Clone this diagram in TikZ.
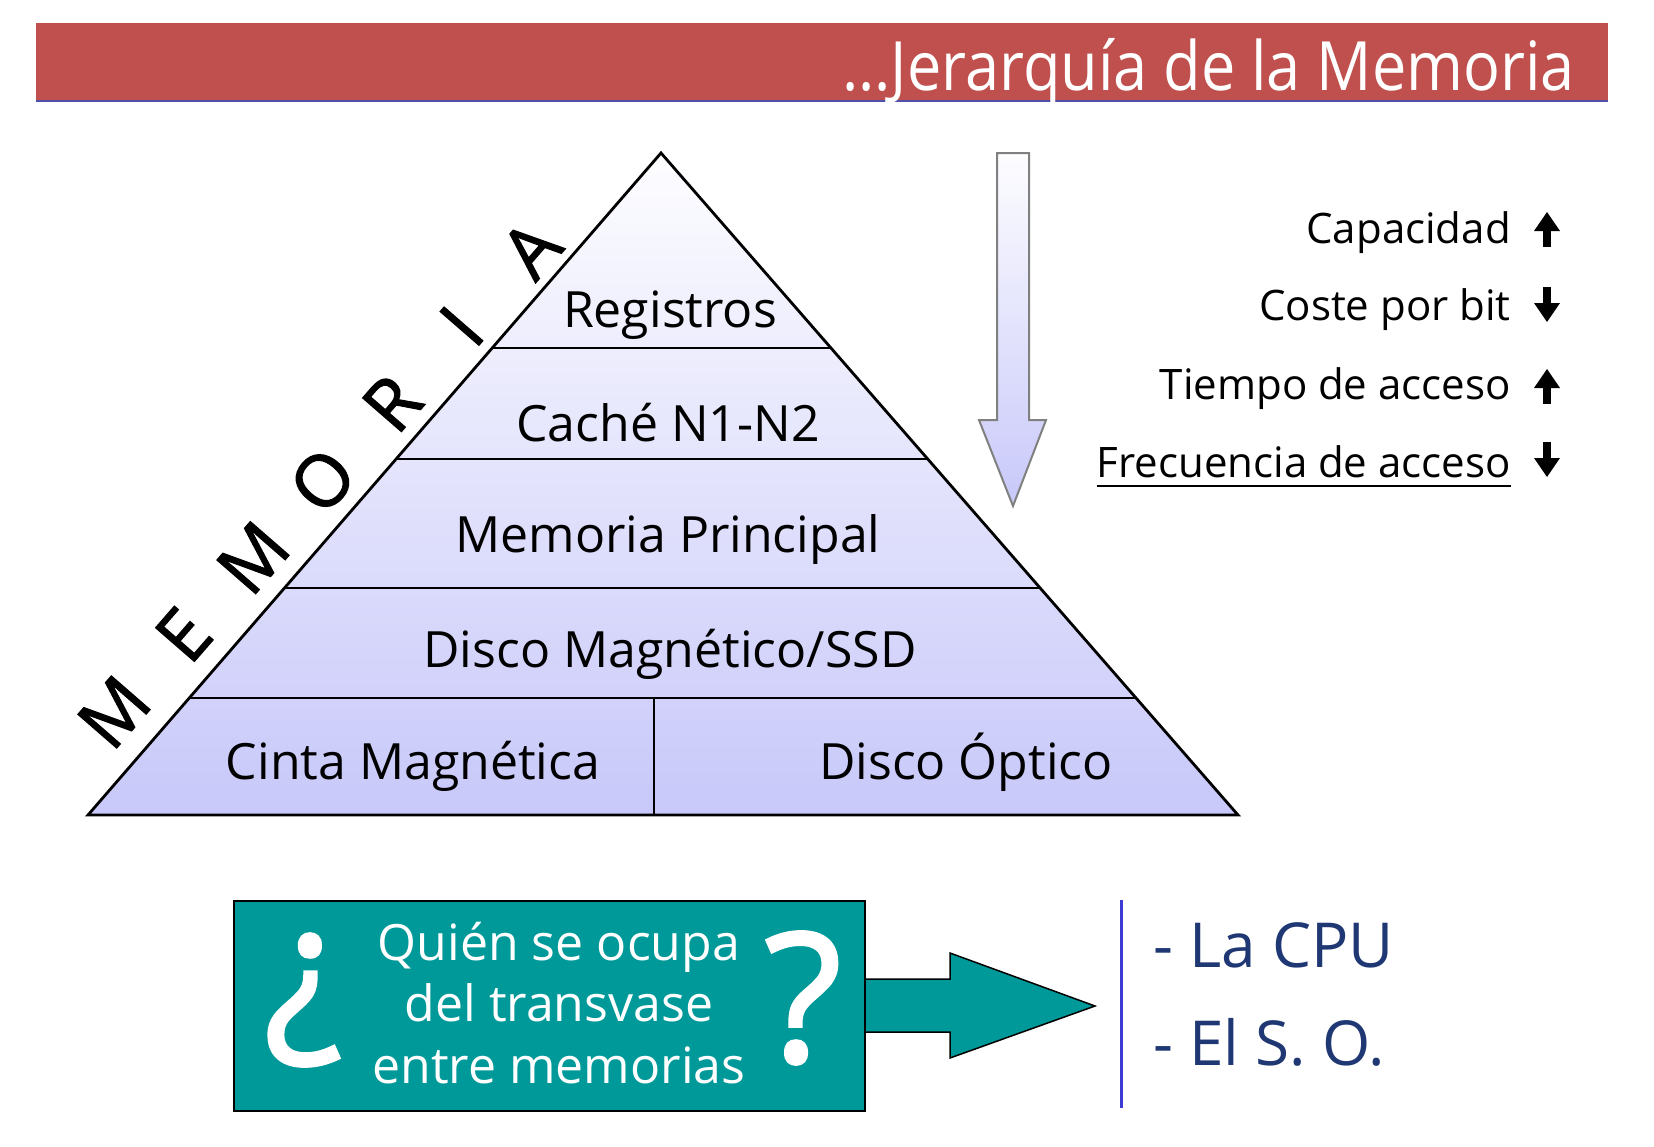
\documentclass[tikz,border=0pt]{standalone}
\usepackage{fontspec}
\setmainfont{Open Sans}
\newfontfamily\titlefont[FakeStretch=0.9]{Open Sans}
\newfontfamily\qfont[FakeBold=1.6]{Open Sans}
\usetikzlibrary{calc}
\definecolor{hdr}{RGB}{192,80,77}
\definecolor{hdrline}{RGB}{80,80,170}
\definecolor{lav}{RGB}{200,200,250}
\definecolor{lavtop}{RGB}{253,253,255}
\definecolor{tealbox}{RGB}{0,153,153}
\definecolor{ansblue}{RGB}{31,56,116}
\definecolor{vline}{RGB}{60,60,210}
\tikzset{
  lbl/.style={inner sep=0, anchor=base, font=\fontsize{50}{50}\selectfont},
  rlbl/.style={inner sep=0, anchor=base east, font=\fontsize{42}{42}\selectfont},
  memletter/.style={inner sep=0, rotate=49, font=\qfont\fontsize{72}{72}\selectfont},
  qtext/.style={inner sep=0, anchor=base, text=white, font=\fontsize{50}{50}\selectfont},
  ans/.style={inner sep=0, anchor=base west, text=ansblue, font=\fontsize{62}{62}\selectfont},
  bigq/.style={inner sep=0, text=white, font=\qfont\fontsize{180}{180}\selectfont},
  uparr/.pic={\fill (-4,17) rectangle (4,-4); \fill (-13,1) -- (0,-18) -- (13,1) -- cycle;},
  dnarr/.pic={\fill (-4,-17) rectangle (4,4); \fill (-13,-1) -- (0,18) -- (13,-1) -- cycle;},
}
\begin{document}
\begin{tikzpicture}[x=1pt,y=-1pt]
\useasboundingbox[fill=white] (0,0) rectangle (1654,1146);
% header
\fill[hdr] (36,23) rectangle (1608,100);
\draw[line width=2.5pt, hdrline] (36,101) -- (1608,101);
\node[anchor=base east, inner sep=0, text=white, font=\titlefont\fontsize{68}{68}\selectfont] (title) at (1575,90) {...Jerarquía de la Memoria};
% pyramid
\coordinate (A) at (661,153);
\coordinate (BL) at (88,815);
\coordinate (BR) at (1238,815);
\shade[top color=lavtop, bottom color=lav] (A) -- (BL) -- (BR) -- cycle;
\foreach \t in {0.2946,0.4622,0.6571,0.8233}
  \draw[line width=1.8pt] ($(A)!\t!(BL)$) -- ($(A)!\t!(BR)$);
\draw[line width=1.8pt] (654,698) -- (654,815);
\draw[line width=2.8pt, line join=miter] (A) -- (BL) -- (BR) -- cycle;
\node[lbl] (reg) at (670,327) {Registros};
\node[lbl] (cache) at (668,441) {Caché N1-N2};
\node[lbl] (mp) at (668,552) {Memoria Principal};
\node[lbl] (disco) at (670,667) {Disco Magnético/SSD};
\node[lbl] (cinta) at (413,779) {Cinta Magnética};
\node[lbl] (optico) at (966,779) {Disco Óptico};
% MEMORIA letters
\foreach \l [count=\i] in {M,E,M,O,R,I,A}
  \node[memletter] (mem\i) at ($(114,712)!{(\i-1)/6}!(531,249)$) {\l};
% vertical arrow
\shade[top color=lavtop, bottom color=lav, draw=gray, line width=2pt]
  (997,153) -- (1029,153) -- (1029,420) -- (1046,420) -- (1013,506) -- (979,420) -- (997,420) -- cycle;
% right labels
\node[rlbl] (cap) at (1511,243) {Capacidad};
\node[rlbl] (coste) at (1511,320) {Coste por bit};
\node[rlbl] (tiempo) at (1511,399) {Tiempo de acceso};
\node[rlbl] (frec) at (1511,477) {Frecuencia de acceso};
\draw[line width=2.5pt] ([yshift=-9pt]frec.base west) -- ([yshift=-9pt]frec.base east);
\pic at (1547,230) {uparr};
\pic at (1547,304) {dnarr};
\pic at (1547,387) {uparr};
\pic at (1547,459) {dnarr};
% teal arrow and box
\draw[fill=tealbox, line width=1.5pt, line join=miter] (864,979) -- (950,979) -- (950,953) -- (1095,1006) -- (950,1058) -- (950,1032) -- (864,1032);
\node[draw=black, fill=tealbox, line width=2pt, minimum width=631pt, minimum height=210pt, anchor=north west, inner sep=0] (box) at (233,900) {};
\node[qtext] (q1) at (559,960) {Quién se ocupa};
\node[qtext] (q2) at (559,1021) {del transvase};
\node[qtext] (q3) at (559,1083) {entre memorias};
\node[bigq] (qopen) at (303,1000) {¿};
\node[bigq] (qclose) at (803,998) {?};
% answers
\draw[vline, line width=3pt] (1121,900) -- (1121,1108);
\node[ans] (a1) at (1153,967) {- La CPU};
\node[ans] (a2) at (1153,1065) {- El S. O.};
\end{tikzpicture}
\end{document}
